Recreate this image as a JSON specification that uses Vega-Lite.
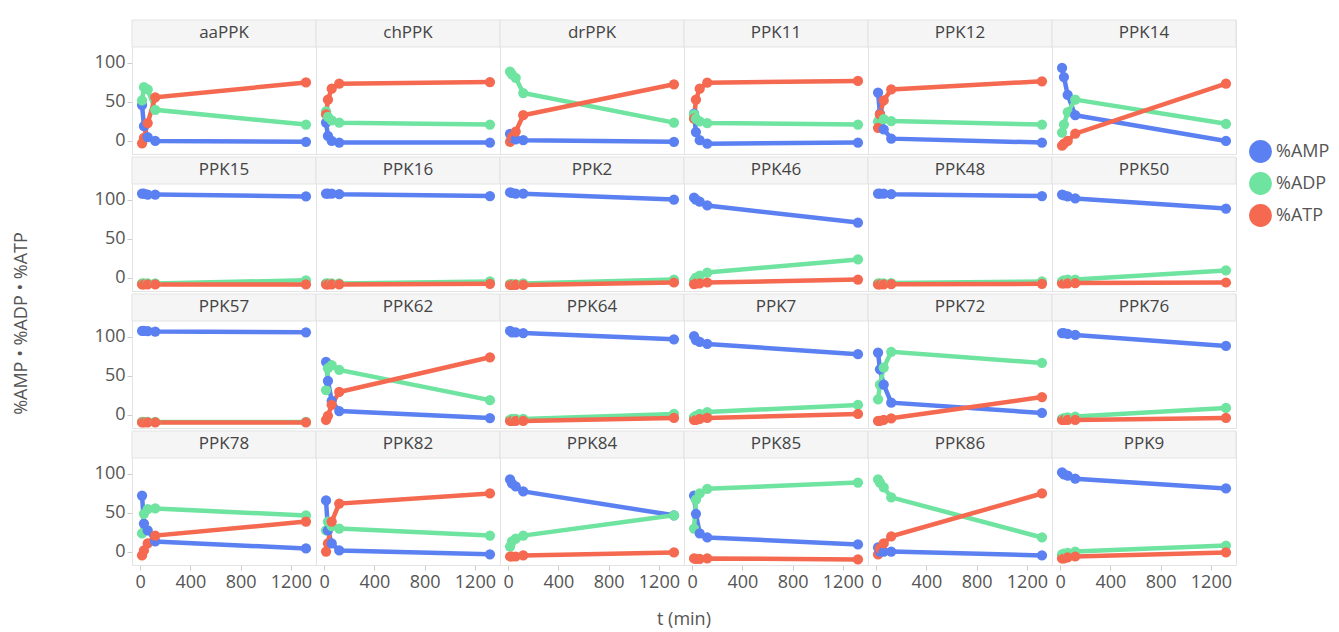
{
"$schema": "https://vega.github.io/schema/vega-lite/v6.json",
"padding": {"left": 13, "top": 18, "right": 0, "bottom": 0},
"background": "white",
"bounds": "flush",
"title": {"text": "%AMP • %ADP • %ATP", "orient": "left", "anchor": "middle", "fontSize": 18, "color": "#555", "fontWeight": "normal", "offset": 63},
"config": {
 "font": "Open Sans",
 "view": {"stroke": "#e3e3e3", "strokeWidth": 1},
 "header": {"labels": false, "labelFontSize": 1, "labelPadding": 0, "labelExpr": "''"},
 "axis": {"grid": false, "domain": false, "labelFontSize": 18, "labelColor": "#555", "tickColor": "#ccc", "tickSize": 5, "titleFontSize": 18, "titleColor": "#555", "titleFontWeight": "normal"}
},
"data": {"values": [
{"p":"aaPPK","t":15,"AMP":46,"ADP":52,"ATP":-3},
{"p":"aaPPK","t":30,"AMP":19,"ADP":69,"ATP":4},
{"p":"aaPPK","t":60,"AMP":5,"ADP":66,"ATP":23},
{"p":"aaPPK","t":120,"AMP":0,"ADP":40,"ATP":56},
{"p":"aaPPK","t":1320,"AMP":-1,"ADP":21,"ATP":75},
{"p":"chPPK","t":15,"AMP":23.5,"ADP":38,"ATP":34},
{"p":"chPPK","t":30,"AMP":6.5,"ADP":31,"ATP":53},
{"p":"chPPK","t":60,"AMP":0,"ADP":26.5,"ATP":67},
{"p":"chPPK","t":120,"AMP":-2,"ADP":23.5,"ATP":73.5},
{"p":"chPPK","t":1320,"AMP":-2,"ADP":21,"ATP":75.5},
{"p":"drPPK","t":15,"AMP":9,"ADP":89,"ATP":-1},
{"p":"drPPK","t":30,"AMP":4,"ADP":85.5,"ATP":5},
{"p":"drPPK","t":60,"AMP":2,"ADP":81,"ATP":12},
{"p":"drPPK","t":120,"AMP":1,"ADP":61.5,"ATP":33},
{"p":"drPPK","t":1320,"AMP":-1,"ADP":23.5,"ATP":72.7},
{"p":"PPK11","t":15,"AMP":35,"ADP":34,"ATP":28.6},
{"p":"PPK11","t":30,"AMP":11.5,"ADP":28.6,"ATP":53},
{"p":"PPK11","t":60,"AMP":1,"ADP":25,"ATP":67},
{"p":"PPK11","t":120,"AMP":-3.4,"ADP":23,"ATP":74.8},
{"p":"PPK11","t":1320,"AMP":-2,"ADP":21,"ATP":77},
{"p":"PPK12","t":15,"AMP":62,"ADP":25,"ATP":16.7},
{"p":"PPK12","t":30,"AMP":35,"ADP":31,"ATP":34},
{"p":"PPK12","t":60,"AMP":15,"ADP":28,"ATP":52},
{"p":"PPK12","t":120,"AMP":3,"ADP":25.6,"ATP":66},
{"p":"PPK12","t":1320,"AMP":-2,"ADP":21,"ATP":76.5},
{"p":"PPK14","t":15,"AMP":93.6,"ADP":10.6,"ATP":-6},
{"p":"PPK14","t":30,"AMP":82,"ADP":21,"ATP":-3.4},
{"p":"PPK14","t":60,"AMP":59,"ADP":37,"ATP":0},
{"p":"PPK14","t":120,"AMP":33,"ADP":53,"ATP":9.4},
{"p":"PPK14","t":1320,"AMP":0,"ADP":22,"ATP":73.5},
{"p":"PPK15","t":15,"AMP":108.3,"ADP":-7,"ATP":-8.3},
{"p":"PPK15","t":30,"AMP":108.3,"ADP":-7,"ATP":-8.3},
{"p":"PPK15","t":60,"AMP":107,"ADP":-7,"ATP":-8.3},
{"p":"PPK15","t":120,"AMP":107,"ADP":-7,"ATP":-8.3},
{"p":"PPK15","t":1320,"AMP":104.5,"ADP":-3,"ATP":-8.3},
{"p":"PPK16","t":15,"AMP":108.3,"ADP":-7,"ATP":-8.3},
{"p":"PPK16","t":30,"AMP":108.3,"ADP":-7,"ATP":-8.3},
{"p":"PPK16","t":60,"AMP":108,"ADP":-7,"ATP":-8.3},
{"p":"PPK16","t":120,"AMP":107.5,"ADP":-7,"ATP":-8.3},
{"p":"PPK16","t":1320,"AMP":105,"ADP":-4.5,"ATP":-7.5},
{"p":"PPK2","t":15,"AMP":109.6,"ADP":-8,"ATP":-9},
{"p":"PPK2","t":30,"AMP":109,"ADP":-8,"ATP":-9},
{"p":"PPK2","t":60,"AMP":108,"ADP":-8,"ATP":-9},
{"p":"PPK2","t":120,"AMP":108,"ADP":-7,"ATP":-9},
{"p":"PPK2","t":1320,"AMP":100.6,"ADP":-2,"ATP":-5.8},
{"p":"PPK46","t":15,"AMP":103,"ADP":-3,"ATP":-8},
{"p":"PPK46","t":30,"AMP":100.6,"ADP":0.6,"ATP":-7},
{"p":"PPK46","t":60,"AMP":98,"ADP":3,"ATP":-7},
{"p":"PPK46","t":120,"AMP":93,"ADP":7,"ATP":-5.8},
{"p":"PPK46","t":1320,"AMP":71,"ADP":23.7,"ATP":-2},
{"p":"PPK48","t":15,"AMP":108.3,"ADP":-7,"ATP":-8.3},
{"p":"PPK48","t":30,"AMP":108.3,"ADP":-7,"ATP":-8.3},
{"p":"PPK48","t":60,"AMP":108,"ADP":-7,"ATP":-8.3},
{"p":"PPK48","t":120,"AMP":107.5,"ADP":-6.5,"ATP":-8},
{"p":"PPK48","t":1320,"AMP":105,"ADP":-4.5,"ATP":-7.5},
{"p":"PPK50","t":15,"AMP":107,"ADP":-4.5,"ATP":-7},
{"p":"PPK50","t":30,"AMP":105.8,"ADP":-3,"ATP":-7},
{"p":"PPK50","t":60,"AMP":104.5,"ADP":-2,"ATP":-7},
{"p":"PPK50","t":120,"AMP":102,"ADP":-2,"ATP":-6.5},
{"p":"PPK50","t":1320,"AMP":89,"ADP":9.6,"ATP":-5.8},
{"p":"PPK57","t":15,"AMP":107.7,"ADP":-9,"ATP":-9.5},
{"p":"PPK57","t":30,"AMP":107.7,"ADP":-9,"ATP":-9.5},
{"p":"PPK57","t":60,"AMP":107.5,"ADP":-9,"ATP":-9.5},
{"p":"PPK57","t":120,"AMP":107,"ADP":-9,"ATP":-9.5},
{"p":"PPK57","t":1320,"AMP":106,"ADP":-9,"ATP":-9.5},
{"p":"PPK62","t":15,"AMP":68,"ADP":32,"ATP":-6.4},
{"p":"PPK62","t":30,"AMP":43.6,"ADP":60,"ATP":-1},
{"p":"PPK62","t":60,"AMP":18,"ADP":64,"ATP":13},
{"p":"PPK62","t":120,"AMP":5,"ADP":57.7,"ATP":29.5},
{"p":"PPK62","t":1320,"AMP":-4,"ADP":19,"ATP":74},
{"p":"PPK64","t":15,"AMP":107.7,"ADP":-6.4,"ATP":-7.7},
{"p":"PPK64","t":30,"AMP":106,"ADP":-5,"ATP":-7.7},
{"p":"PPK64","t":60,"AMP":106,"ADP":-5,"ATP":-7.7},
{"p":"PPK64","t":120,"AMP":105,"ADP":-5,"ATP":-7.7},
{"p":"PPK64","t":1320,"AMP":97,"ADP":1.3,"ATP":-3.8},
{"p":"PPK7","t":15,"AMP":101,"ADP":-2.6,"ATP":-6.4},
{"p":"PPK7","t":30,"AMP":96,"ADP":-1.3,"ATP":-6.4},
{"p":"PPK7","t":60,"AMP":93.6,"ADP":1.3,"ATP":-5},
{"p":"PPK7","t":120,"AMP":91,"ADP":3.8,"ATP":-3.8},
{"p":"PPK7","t":1320,"AMP":78,"ADP":12.8,"ATP":1.3},
{"p":"PPK72","t":15,"AMP":80,"ADP":20,"ATP":-7.7},
{"p":"PPK72","t":30,"AMP":58.5,"ADP":39,"ATP":-7.7},
{"p":"PPK72","t":60,"AMP":39,"ADP":60.6,"ATP":-6.4},
{"p":"PPK72","t":120,"AMP":15.8,"ADP":81,"ATP":-4.3},
{"p":"PPK72","t":1320,"AMP":2.6,"ADP":66.7,"ATP":23},
{"p":"PPK76","t":15,"AMP":105,"ADP":-5,"ATP":-6.4},
{"p":"PPK76","t":30,"AMP":105,"ADP":-4,"ATP":-6.4},
{"p":"PPK76","t":60,"AMP":104,"ADP":-3,"ATP":-6.4},
{"p":"PPK76","t":120,"AMP":102.6,"ADP":-2,"ATP":-6.4},
{"p":"PPK76","t":1320,"AMP":88.5,"ADP":9,"ATP":-3.8},
{"p":"PPK78","t":15,"AMP":72.4,"ADP":23.7,"ATP":-4.5},
{"p":"PPK78","t":30,"AMP":36.5,"ADP":49,"ATP":2},
{"p":"PPK78","t":60,"AMP":27.6,"ADP":55,"ATP":11},
{"p":"PPK78","t":120,"AMP":13.5,"ADP":55.8,"ATP":21},
{"p":"PPK78","t":1320,"AMP":4.5,"ADP":46.8,"ATP":39},
{"p":"PPK82","t":15,"AMP":66,"ADP":27.6,"ATP":0.6},
{"p":"PPK82","t":30,"AMP":27.6,"ADP":39,"ATP":11},
{"p":"PPK82","t":60,"AMP":11,"ADP":33,"ATP":39},
{"p":"PPK82","t":120,"AMP":2,"ADP":30,"ATP":62},
{"p":"PPK82","t":1320,"AMP":-3,"ADP":21,"ATP":75},
{"p":"PPK84","t":15,"AMP":93,"ADP":7,"ATP":-5.8},
{"p":"PPK84","t":30,"AMP":88,"ADP":13.5,"ATP":-5.8},
{"p":"PPK84","t":60,"AMP":84,"ADP":17,"ATP":-5.8},
{"p":"PPK84","t":120,"AMP":77.6,"ADP":21,"ATP":-4.5},
{"p":"PPK84","t":1320,"AMP":47,"ADP":47,"ATP":-0.6},
{"p":"PPK85","t":15,"AMP":72.4,"ADP":30,"ATP":-8.3},
{"p":"PPK85","t":30,"AMP":49,"ADP":67,"ATP":-9},
{"p":"PPK85","t":60,"AMP":23.7,"ADP":75,"ATP":-9},
{"p":"PPK85","t":120,"AMP":18.6,"ADP":81,"ATP":-8.3},
{"p":"PPK85","t":1320,"AMP":9.6,"ADP":89,"ATP":-9.6},
{"p":"PPK86","t":15,"AMP":5.8,"ADP":93,"ATP":-3.2},
{"p":"PPK86","t":30,"AMP":0.6,"ADP":89,"ATP":4.5},
{"p":"PPK86","t":60,"AMP":0.6,"ADP":82.7,"ATP":11},
{"p":"PPK86","t":120,"AMP":0.6,"ADP":70,"ATP":20},
{"p":"PPK86","t":1320,"AMP":-4.5,"ADP":18.6,"ATP":75},
{"p":"PPK9","t":15,"AMP":102,"ADP":-3.2,"ATP":-8.3},
{"p":"PPK9","t":30,"AMP":99.4,"ADP":-2,"ATP":-8.3},
{"p":"PPK9","t":60,"AMP":98,"ADP":-1,"ATP":-7},
{"p":"PPK9","t":120,"AMP":94,"ADP":0.6,"ATP":-5.8},
{"p":"PPK9","t":1320,"AMP":81.4,"ADP":8.3,"ATP":-0.6}
]},
"transform": [{"fold": ["AMP", "ADP", "ATP"], "as": ["s", "v"]}],
"facet": {"field": "p", "type": "nominal", "title": "t (min)", "sort": ["aaPPK","chPPK","drPPK","PPK11","PPK12","PPK14","PPK15","PPK16","PPK2","PPK46","PPK48","PPK50","PPK57","PPK62","PPK64","PPK7","PPK72","PPK76","PPK78","PPK82","PPK84","PPK85","PPK86","PPK9"], "header": {"labels": false, "titleOrient": "bottom", "titleFontSize": 18, "titleColor": "#555", "titleFontWeight": "normal", "titlePadding": 20}},
"columns": 6,
"spacing": {"row": 3, "column": 0},
"spec": {
 "width": 184,
 "height": 134,
 "layer": [
  {"mark": {"type": "line", "strokeWidth": 4.5},
   "encoding": {
    "x": {"field": "t", "type": "quantitative", "scale": {"domain": [-65, 1400], "nice": false, "zero": false}, "axis": {"values": [0, 400, 800, 1200], "format": "d", "title": null, "labelPadding": 3}},
    "y": {"field": "v", "type": "quantitative", "scale": {"domain": [-16.7, 155.1], "nice": false, "zero": false}, "axis": {"values": [0, 50, 100], "title": null}},
    "color": {"field": "s", "type": "nominal", "scale": {"domain": ["AMP", "ADP", "ATP"], "range": ["#5b80f2", "#6fe3a0", "#f4694f"]}, "legend": {"orient": "none", "legendX": 1117, "legendY": 120, "title": null, "symbolType": "circle", "symbolSize": 520, "symbolStrokeWidth": 0, "labelFontSize": 18, "labelColor": "#555", "rowPadding": 9, "labelExpr": "'%' + datum.label"}},
    "detail": {"field": "s"}
   }},
  {"mark": {"type": "point", "filled": true, "size": 105, "opacity": 1},
   "encoding": {
    "x": {"field": "t", "type": "quantitative"},
    "y": {"field": "v", "type": "quantitative"},
    "color": {"field": "s", "type": "nominal"}
   }},
  {"transform": [{"aggregate": [{"op": "count", "as": "n"}], "groupby": ["p"]}],
   "mark": {"type": "rect", "fill": "#f5f5f5", "stroke": "#e3e3e3", "strokeWidth": 1},
   "encoding": {
    "x": {"datum": -65, "type": "quantitative"}, "x2": {"datum": 1400},
    "y": {"datum": 120.5, "type": "quantitative"}, "y2": {"datum": 155.1}
   }},
  {"transform": [{"aggregate": [{"op": "count", "as": "n"}], "groupby": ["p"]}],
   "mark": {"type": "text", "fontSize": 17, "color": "#444", "baseline": "middle"},
   "encoding": {
    "x": {"datum": 667.5, "type": "quantitative"},
    "y": {"datum": 138, "type": "quantitative"},
    "text": {"field": "p"}
   }}
 ]
}
}
